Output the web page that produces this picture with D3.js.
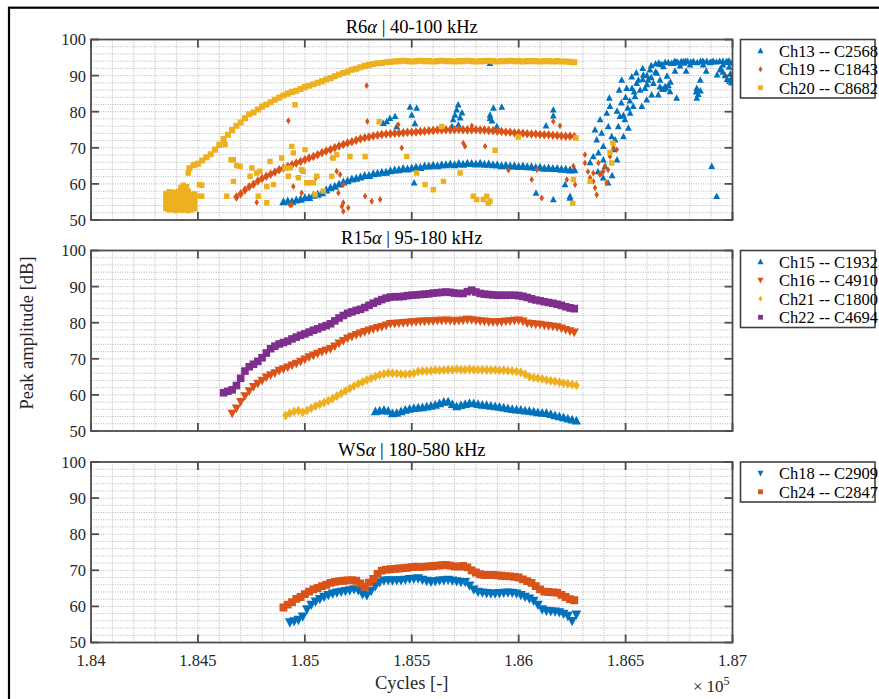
<!DOCTYPE html>
<html><head><meta charset="utf-8">
<script src="https://cdn.jsdelivr.net/npm/d3@7"></script>
<style>body{margin:0;background:#fff}svg{display:block}</style>
</head><body>
<script>
// ---------- axis data ----------
const xTickValues=[184000,184500,185000,185500,186000,186500,187000];
const xTickLabels=["1.84","1.845","1.85","1.855","1.86","1.865","1.87"];
const yTickValues=[50,60,70,80,90,100];
const yTickLabels=["50","60","70","80","90","100"];
const panelTitles=[["R6","α"," | 40-100 kHz"],["R15","α"," | 95-180 kHz"],["WS","α"," | 180-580 kHz"]];
const sampleStep=20; // cycles between stored samples

// ---------- panel 1 : R6α ----------
const ch13Start=184900;
const ch13Values=[55.0,55.2,55.1,55.5,55.7,56.1,56.2,56.8,57.1,57.5,58.3,58.9,59.3,59.9,60.5,60.8,61.3,61.5,61.9,62.3,62.3,62.8,62.9,63.2,63.2,63.6,63.8,63.9,64.2,64.1,64.4,64.6,64.5,64.9,64.9,65.1,65.0,65.3,65.3,65.5,65.3,65.6,65.4,65.7,65.6,65.5,65.7,65.4,65.5,65.3,65.3,65.0,65.1,64.9,65.0,64.8,64.9,64.7,64.7,64.5,64.6,64.3,64.4,64.2,64.2,64.0,64.0,63.8,63.9];
const ch13Scatter=[[185367,76.8],[185422,78.7],[185492,81.3],[185500,79.1],[185523,81.0],[185515,76.7],[185430,75.9],[185383,77.3],[185398,78.2],[185710,80.5],[185702,79.1],[185694,77.8],[185718,76.4],[185688,75.9],[185726,78.3],[185717,81.9],[185735,79.7],[185866,79.1],[185882,81.0],[185921,81.3],[185898,75.9],[185866,78.2],[185875,77.5],[186162,80.5],[186162,78.9],[186128,76.1],[185866,93.4],[185511,60.3],[186081,57.5],[186162,55.7],[186240,56.1],[186217,59.8],[186240,56.6],
[186349,67.6],[186357,75.0],[186365,72.2],[186373,68.6],[186381,77.8],[186388,74.1],[186396,70.4],[186396,66.7],[186404,64.9],[186412,79.6],[186419,75.9],[186424,83.8],[186427,81.5],[186435,73.1],[186443,69.5],[186451,72.2],[186466,75.9],[186474,78.7],[186482,88.8],[186490,73.1],[186497,77.8],[186505,86.5],[186513,75.5],[186521,79.6],[186529,89.7],[186536,81.5],[186544,84.2],[186552,87.9],[186568,86.0],[186576,81.5],[186583,90.2],[186591,86.5],[186599,83.3],[186605,88.8],[186614,91.6],[186622,84.7],[186630,87.9],[186646,90.7],[186653,84.7],[186661,88.8],[186677,92.5],[186685,87.0],[186694,89.9],[186708,85.6],[186723,93.4],[186731,91.3],[186739,83.8],[186755,92.7],[186770,93.9],[186783,91.3],[186802,93.0],[186816,93.9],[186833,86.5],[186833,83.8],[186849,88.8],[186863,93.0],[186877,91.3],[186903,64.9],[186926,56.6],[186909,93.9],[186928,90.2],[186942,91.6],[186956,93.0],[186973,93.9],[186984,92.4],[186996,89.3],
[186700,93.6],[186740,93.8],[186780,94.0],[186820,93.7],[186860,94.0],[186900,93.8],[186940,94.0],[186980,93.9],[186660,93.2],[186620,92.8],[186580,92.0],[186334,65.9],[186371,63.4],[186395,61.7],[186418,60.3],[186437,62.3],[186460,66.7],
[186640,93.3],[186655,93.5],[186670,93.1],[186685,93.7],[186715,93.4],[186730,94.0],[186745,93.6],[186760,93.9],[186775,93.5],[186790,94.0],[186805,93.8],[186835,93.6],[186850,94.0],[186865,93.8],[186880,94.0],[186895,93.6],[186910,94.0],[186925,93.8],[186955,94.0],[186970,93.7],[186985,94.0],[186998,93.5],
[186945,92.0],[186955,91.0],[186965,90.0],[186975,89.0],[186985,88.5],[186995,88.0],[186990,90.5],
[186660,86.9],[186670,86.3],[186680,86.2],[186690,86.6],[186700,87.3],[186710,88.2],[186830,85.5],[186840,84.8],[186850,85.8],
[186460,80.2],[186480,82.5],[186500,84.0],[186520,83.0],[186540,85.5],[186560,88.8],[186580,89.0],[186600,90.0],[186470,86.0],[186490,79.0],[186510,81.0],[186530,86.5],[186550,90.8],[186600,87.5],[186620,89.5],[186640,91.0]];

const ch19Start=184680;
const ch19Values=[56.4,57.3,58.3,59.2,59.9,60.8,61.5,62.1,62.7,63.3,63.9,64.4,64.8,65.3,65.8,66.2,66.7,67.2,67.6,68.1,68.6,69.1,69.5,70.0,70.5,70.9,71.3,71.7,72.1,72.5,72.8,73.0,73.3,73.5,73.7,73.8,73.9,74.0,74.1,74.2,74.3,74.3,74.4,74.5,74.6,74.7,74.8,74.9,74.9,75.0,75.0,75.0,75.1,75.0,75.0,75.0,75.0,74.9,74.9,74.8,74.7,74.6,74.5,74.4,74.3,74.2,74.1,74.0,73.9,73.8,73.8,73.7,73.6,73.6,73.5,73.4,73.3,73.2,73.2,73.1];
const ch19Scatter=[[184923,77.5],[184775,54.9],[184931,54.1],[184946,59.3],[184985,57.5],[185051,61.7],[185126,67.2],[185149,63.5],[185157,57.5],[185180,54.8],[185180,52.4],[185289,87.2],[185292,77.3],[185437,76.4],[185453,70.0],[185165,62.6],[185180,59.8],[185173,53.8],[185203,53.4],[185282,56.6],[185313,55.2],[185352,55.7],[184939,54.3],[185741,71.3],[185749,70.4],[185781,76.1],[185843,70.4],[185952,63.8],[186061,61.2],[186085,63.9],[186108,56.1],[186162,77.3],[186193,76.1],[186225,61.2],
[186310,68.1],[186310,65.8],[186349,63.0],[186349,60.7],[186357,58.9],[186365,57.0],[186373,65.8],[186388,63.0],[186404,64.9],[186412,60.3],[186427,67.6],[186443,70.0],[186459,69.5],[186256,64.9],[186264,59.8],[186380,62.6],[186396,63.5],[186418,63.9],[186324,63.4],[186334,61.7]];

const ch20Start=184460;
const ch20Values=[64.3,65.2,65.6,66.5,67.4,68.2,69.5,70.8,72.4,73.6,74.9,76.1,77.0,78.2,79.3,79.8,80.6,81.4,82.0,82.6,83.3,83.9,84.5,85.0,85.5,85.8,86.3,86.8,87.2,87.6,88.0,88.4,88.9,89.3,89.8,90.3,90.7,91.1,91.6,91.9,92.3,92.7,92.9,93.2,93.4,93.5,93.7,93.8,93.9,
94.0,94.1,94.0,93.9,94.0,94.1,94.0,94.0,93.9,94.0,94.1,94.0,94.0,93.9,94.0,94.0,94.1,94.0,93.9,94.0,94.0,94.1,94.0,93.9,94.0,94.0,94.1,94.0,94.0,93.9,94.0,94.0,94.0,93.9,94.0,94.0,93.9,94.0,
93.9,93.9,93.8,93.7];
const ch20Blob=[[184350,53.2],[184350,54.6],[184350,56.0],[184350,57.3],[184365,52.8],[184365,54.2],[184365,55.6],[184365,57.0],[184365,57.8],[184380,53.0],[184380,54.4],[184380,55.8],[184380,57.2],[184380,57.7],[184395,52.6],[184395,54.0],[184395,55.4],[184395,56.8],[184395,57.6],[184410,52.9],[184410,54.3],[184410,55.7],[184410,57.1],[184410,58.0],[184425,52.7],[184425,54.1],[184425,55.5],[184425,56.9],[184425,58.3],[184440,52.8],[184440,54.2],[184440,55.6],[184440,57.0],[184440,58.6],[184455,52.6],[184455,54.0],[184455,55.4],[184455,56.8],[184455,57.9],[184470,52.9],[184470,54.3],[184470,55.7],[184470,57.1],[184485,53.1],[184485,54.5],[184485,55.9],[184485,57.2],[184432,59.6],[184420,59.0],[184447,59.2]];
const ch20Scatter=[[184455,63.0],[184518,59.6],[184518,56.6],[184627,70.9],[184666,66.7],[184681,65.1],[184697,64.9],[184666,60.7],[184744,62.1],[184635,56.6],[184752,64.4],[184775,63.0],[184790,63.5],[184782,56.6],[184822,54.8],[184822,59.3],[184853,59.8],[184837,66.2],[184892,67.2],[184907,64.4],[184923,62.1],[184939,70.4],[184946,68.6],[184954,81.9],[185001,69.5],[184993,63.5],[185048,57.0],[185086,58.0],[185126,62.1],[185149,68.1],[185016,60.3],[184931,64.4],[184985,63.9],[184970,61.7],[185009,60.3],[185040,60.3],[185056,62.1],[185133,67.2],[185211,67.6],[185282,67.6],[185348,77.2],[185477,67.6],[185523,63.0],[185562,59.8],[185601,58.4],[185640,75.9],[185648,60.7],[185726,63.0],[185788,56.6],[185804,55.7],[185835,55.7],[185851,56.6],[185866,55.2],[185858,54.6],[185890,69.3],[185998,73.0],[186256,61.2],[186253,54.6],[186334,60.7],[186427,68.7],[186440,71.3],[186435,65.8],[186268,72.7],[184507,59.8],[184510,56.6],[184655,66.7]];

// ---------- panel 2 : R15α ----------
const ch15Start=185330;
const ch15Values=[55.4,55.6,55.8,55.5,54.8,55.0,55.4,55.8,56.1,56.3,56.4,56.5,56.7,56.9,57.2,57.6,58.0,58.1,57.4,56.8,57.1,57.4,57.7,57.6,57.4,57.2,57.1,56.9,56.8,56.6,56.4,56.2,56.0,55.9,55.8,55.6,55.5,55.3,55.1,55.0,54.9,54.6,54.3,54.0,53.7,53.4,53.1,52.8];
const ch16Start=184660;
const ch16Values=[54.9,56.3,58.1,59.7,61.1,62.3,63.2,64.0,64.9,65.5,66.1,66.8,67.2,67.7,68.2,68.7,69.3,69.9,70.5,71.0,71.5,72.0,72.4,72.8,73.5,74.3,75.0,75.7,76.2,76.7,77.1,77.5,77.9,78.3,78.6,78.9,79.3,79.7,79.8,79.9,80.0,80.1,80.2,80.3,80.4,80.4,80.5,80.5,80.6,80.6,80.7,80.6,80.5,80.6,80.7,80.9,80.8,80.6,80.5,80.4,80.3,80.2,80.2,80.3,80.4,80.5,80.6,80.7,80.4,79.9,79.7,79.6,79.5,79.3,79.2,79.0,78.8,78.5,78.1,77.7,77.4];
const ch21Start=184910;
const ch21Values=[54.3,54.9,55.4,55.6,55.2,55.7,56.3,56.9,57.4,57.9,58.4,59.0,59.7,60.4,61.1,61.8,62.5,63.1,63.6,64.1,64.6,65.1,65.5,65.8,66.1,66.0,65.9,65.8,65.7,65.8,66.0,66.5,66.6,66.6,66.7,66.8,66.8,66.9,67.0,67.0,67.1,67.0,67.0,67.1,67.0,67.0,67.0,66.9,66.9,66.9,66.8,66.8,66.7,66.6,66.5,66.3,65.7,65.0,64.8,64.6,64.4,64.1,63.9,63.7,63.5,63.3,63.1,62.9,62.7];
const ch22Start=184620;
const ch22Values=[60.6,61.0,61.4,62.6,64.6,66.6,67.8,68.5,69.3,70.3,71.6,72.8,73.5,74.1,74.5,74.9,75.5,76.0,76.5,76.9,77.4,77.9,78.3,78.8,79.2,79.7,80.5,81.3,82.0,82.6,83.0,83.4,83.7,84.2,84.8,85.4,85.9,86.4,86.8,87.1,87.2,87.2,87.3,87.5,87.6,87.7,87.8,87.9,88.0,88.2,88.3,88.4,88.5,88.4,88.2,88.1,88.1,88.6,89.0,88.5,88.1,87.9,87.8,87.7,87.6,87.6,87.6,87.6,87.6,87.5,87.3,87.0,86.6,86.3,86.1,85.8,85.6,85.4,85.1,84.8,84.4,84.1,83.9];

// ---------- panel 3 : WSα ----------
const ch18Start=184930;
const ch18Values=[55.6,55.9,56.3,57.2,59.2,60.5,61.4,62.1,62.7,63.2,63.6,63.9,64.1,64.3,64.5,64.8,64.5,63.4,63.1,64.3,65.6,66.7,67.2,67.3,67.2,67.3,67.3,67.4,67.6,67.7,67.8,67.4,67.1,66.9,67.0,67.2,67.3,67.4,67.2,67.0,66.8,66.8,65.8,64.7,64.1,63.9,63.7,63.6,63.6,63.7,63.8,63.9,63.8,63.6,63.2,62.7,62.2,61.6,60.5,59.2,58.8,58.7,58.6,58.4,58.0,57.4,56.0,57.8];
const ch24Start=184900;
const ch24Values=[59.7,60.5,61.2,62.1,62.6,63.4,64.1,64.7,65.1,65.6,66.0,66.5,66.8,67.0,67.1,67.2,67.3,67.1,66.4,65.4,66.6,67.6,69.0,69.9,70.2,70.3,70.4,70.5,70.6,70.7,70.9,71.0,70.9,71.0,71.1,71.2,71.3,71.4,71.5,71.3,71.1,71.0,71.2,70.8,70.0,69.4,68.9,68.7,68.7,68.7,68.6,68.5,68.4,68.3,68.2,68.0,67.5,67.0,66.5,65.6,64.7,64.1,64.0,63.9,63.8,63.2,62.6,62.0,61.7];

// ---------- colours / markers ----------
const C_BLUE="#0072BD",C_RED="#D95319",C_YEL="#EDB120",C_PUR="#7E2F8E";

const panels=[
 {title:panelTitles[0],series:[
   {name:"Ch13 -- C2568",color:C_BLUE,marker:"up",start:ch13Start,values:ch13Values,extra:ch13Scatter,band:8.4},
   {name:"Ch19 -- C1843",color:C_RED,marker:"diamond",start:ch19Start,values:ch19Values,extra:ch19Scatter,band:9.5},
   {name:"Ch20 -- C8682",color:C_YEL,marker:"square",start:ch20Start,values:ch20Values,extra:ch20Blob.concat(ch20Scatter),band:7.6}]},
 {title:panelTitles[1],series:[
   {name:"Ch15 -- C1932",color:C_BLUE,marker:"up",start:ch15Start,values:ch15Values,extra:[],band:9.2},
   {name:"Ch16 -- C4910",color:C_RED,marker:"down",start:ch16Start,values:ch16Values,extra:[],band:9.2},
   {name:"Ch21 -- C1800",color:C_YEL,marker:"diamond",start:ch21Start,values:ch21Values,extra:[],band:10},
   {name:"Ch22 -- C4694",color:C_PUR,marker:"square",start:ch22Start,values:ch22Values,extra:[],band:9.5}]},
 {title:panelTitles[2],series:[
   {name:"Ch18 -- C2909",color:C_BLUE,marker:"down",start:ch18Start,values:ch18Values,extra:[],band:9.8},
   {name:"Ch24 -- C2847",color:C_RED,marker:"square",start:ch24Start,values:ch24Values,extra:[],band:9.8}]}
];

function markerPath(shape,s){
  const h=s/2;
  if(shape==="up")   return `M0,${-0.55*s}L${h},${0.4*s}L${-h},${0.4*s}Z`;
  if(shape==="down") return `M0,${0.55*s}L${h},${-0.4*s}L${-h},${-0.4*s}Z`;
  if(shape==="diamond") return `M0,${-h}L${0.33*s},0L0,${h}L${-0.33*s},0Z`;
  const q=0.4*s; return `M${-q},${-q}H${q}V${q}H${-q}Z`;
}
const extraSize=6.8, legendSize=6;

// ---------- layout ----------
const W=879,H=699;
const FONT="'Liberation Serif','Times New Roman',Times,serif";
const axL=91, axR=732.5, panelTops=[39.5,250.5,462], panelH=180.5;
const legX=740.5, legW=134.5, rowH=18.5;

const svg=d3.select("body").append("svg").attr("width",W).attr("height",H);
svg.append("rect").attr("width",W).attr("height",H).attr("fill","#fff");
svg.append("rect").attr("x",9).attr("y",7.7).attr("width",1000).attr("height",1000)
  .attr("fill","none").attr("stroke","#000").attr("stroke-width",2.2);

const x=d3.scaleLinear().domain([184000,187000]).range([axL,axR]);
const xMinor=d3.range(184000,187001,100);
const yMinor=d3.range(50,100.1,2);

panels.forEach((p,pi)=>{
  const top=panelTops[pi];
  const y=d3.scaleLinear().domain([50,100]).range([top+panelH,top]);
  const g=svg.append("g");
  g.append("rect").attr("x",axL).attr("y",top).attr("width",axR-axL).attr("height",panelH).attr("fill","#fff");
  const grid=g.append("g").attr("stroke","#b0b0b0").attr("stroke-width",0.9).attr("stroke-dasharray","1,1.4");
  xMinor.forEach(v=>grid.append("line").attr("x1",x(v)).attr("x2",x(v)).attr("y1",top).attr("y2",top+panelH));
  yMinor.forEach(v=>grid.append("line").attr("x1",axL).attr("x2",axR).attr("y1",y(v)).attr("y2",y(v)));
  const cid="clip"+pi;
  svg.append("clipPath").attr("id",cid).append("rect").attr("x",axL).attr("y",top).attr("width",axR-axL).attr("height",panelH);
  const dg=g.append("g").attr("clip-path",`url(#${cid})`);
  p.series.forEach(s=>{
    const band=s.values.map((v,i)=>[s.start+i*sampleStep,v]);
    const sg=dg.append("g").attr("fill",s.color);
    sg.selectAll("path.e").data(s.extra).join("path").attr("class","e")
      .attr("d",markerPath(s.marker,extraSize))
      .attr("transform",d=>`translate(${x(d[0])},${y(d[1])})`);
    sg.selectAll("path.b").data(band).join("path").attr("class","b")
      .attr("d",markerPath(s.marker,s.band))
      .attr("transform",d=>`translate(${x(d[0])},${y(d[1])})`);
  });
  const ax=g.append("g").attr("stroke","#4d4d4d").attr("fill","none").attr("stroke-width",1.8);
  ax.append("rect").attr("x",axL).attr("y",top).attr("width",axR-axL).attr("height",panelH);
  const tl=8;
  xTickValues.forEach(v=>{
    ax.append("line").attr("x1",x(v)).attr("x2",x(v)).attr("y1",top+panelH).attr("y2",top+panelH-tl);
    ax.append("line").attr("x1",x(v)).attr("x2",x(v)).attr("y1",top).attr("y2",top+tl);
  });
  yTickValues.forEach(v=>{
    ax.append("line").attr("x1",axL).attr("x2",axL+tl).attr("y1",y(v)).attr("y2",y(v));
    ax.append("line").attr("x1",axR).attr("x2",axR-tl).attr("y1",y(v)).attr("y2",y(v));
  });
  yTickValues.forEach((v,i)=>{
    g.append("text").attr("x",axL-5).attr("y",y(v)).attr("dy","0.36em").attr("text-anchor","end")
     .attr("font-family",FONT).attr("font-size",16.5).attr("fill","#262626").text(yTickLabels[i]);
  });
  const t=g.append("text").attr("x",(axL+axR)/2).attr("y",top-6.5).attr("text-anchor","middle")
    .attr("font-family",FONT).attr("font-size",18.5).attr("fill","#000");
  t.append("tspan").text(p.title[0]);
  t.append("tspan").attr("font-style","italic").text(p.title[1]);
  t.append("tspan").text(p.title[2]);
  const n=p.series.length;
  const lg=g.append("g");
  lg.append("rect").attr("x",legX).attr("y",top).attr("width",legW).attr("height",n*rowH+3)
    .attr("fill","#fff").attr("stroke","#404040").attr("stroke-width",1.6);
  p.series.forEach((s,i)=>{
    const cy=top+2+rowH*(i+0.5);
    lg.append("path").attr("d",markerPath(s.marker,legendSize)).attr("fill",s.color).attr("transform",`translate(${legX+20},${cy})`);
    lg.append("text").attr("x",legX+38.5).attr("y",cy).attr("dy","0.36em")
      .attr("font-family",FONT).attr("font-size",16.5).attr("fill","#000").text(s.name);
  });
  if(pi===panels.length-1){
    xTickValues.forEach((v,i)=>{
      g.append("text").attr("x",x(v)).attr("y",top+panelH+23).attr("text-anchor","middle")
       .attr("font-family",FONT).attr("font-size",16.5).attr("fill","#262626").text(xTickLabels[i]);
    });
  }
});

svg.append("text").attr("x",(axL+axR)/2).attr("y",688.5).attr("text-anchor","middle")
  .attr("font-family",FONT).attr("font-size",18.5).attr("fill","#262626").text("Cycles [-]");
const ex=svg.append("text").attr("x",693).attr("y",691.5).attr("font-family",FONT).attr("font-size",17).attr("fill","#262626");
ex.append("tspan").text("×");
ex.append("tspan").attr("x",706.5).text("10");
ex.append("tspan").attr("font-size",12).attr("dy",-7).text("5");
svg.append("text").attr("transform","translate(33,333) rotate(-90)").attr("text-anchor","middle")
  .attr("font-family",FONT).attr("font-size",18.5).attr("fill","#262626").text("Peak amplitude [dB]");
</script>
</body></html>
